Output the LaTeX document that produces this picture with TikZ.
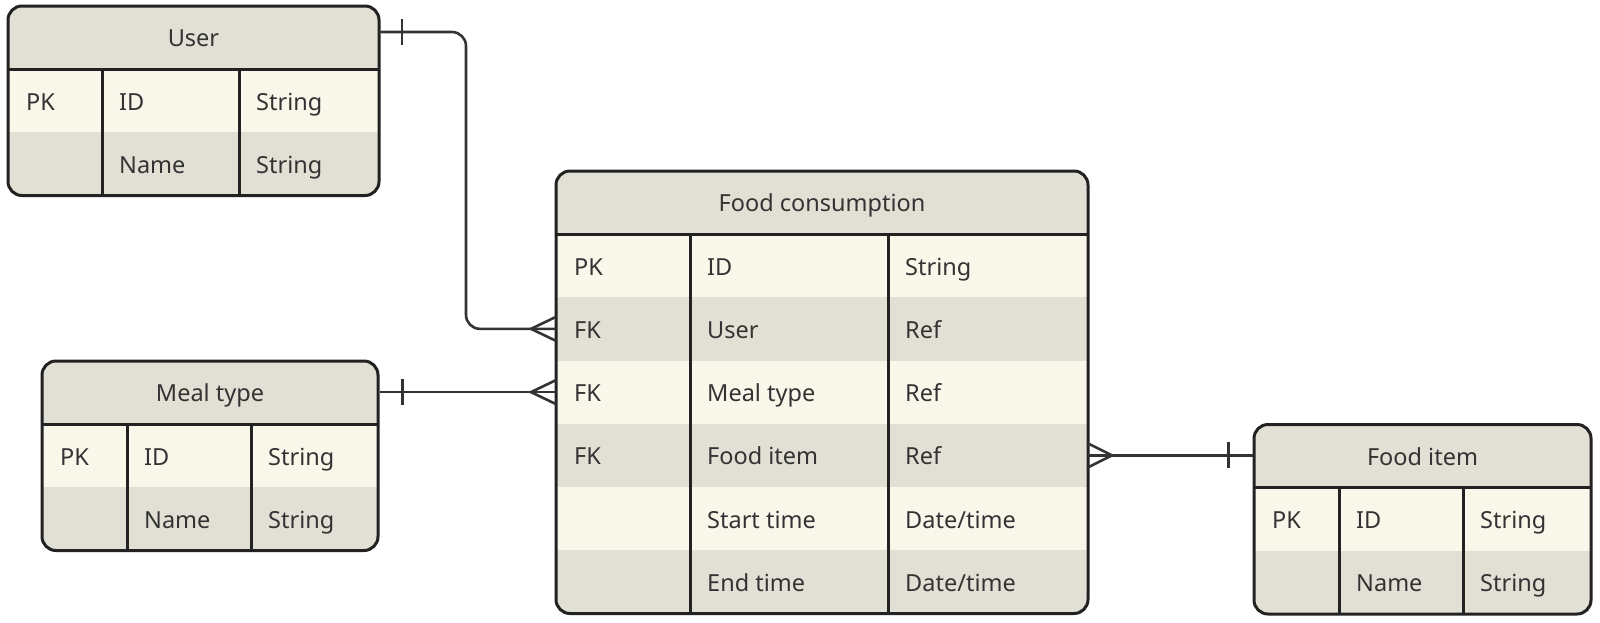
\documentclass[tikz,border=0pt]{standalone}
\usepackage{fontspec}
\setmainfont{Noto Sans}
\usetikzlibrary{calc}
\definecolor{hdrcol}{HTML}{E2E0D4}
\definecolor{lightcol}{HTML}{F9F7EA}
\definecolor{darkcol}{HTML}{E2E0D4}
\definecolor{inkcol}{HTML}{222222}
\definecolor{txtcol}{HTML}{333333}
\tikzset{
  border/.style={draw=inkcol, line width=3pt},
  conn/.style={draw=txtcol, line width=2.6pt},
  celltext/.style={inner sep=0pt, text=txtcol, font=\fontsize{23.5}{28}\selectfont},
}
\newcommand{\erdtable}[9]{%
  % #1 name, #2 x0, #3 x1, #4 top, #5 c1, #6 c2, #7 title, #8 nrows, #9 rows
  \pgfmathsetmacro\tHd{#4+63}%
  \pgfmathsetmacro\tBot{#4+63+#8*63.25}%
  \pgfmathsetmacro\tW{#3-#2}%
  \pgfmathsetmacro\tH{\tBot-#4}%
  \pgfmathsetmacro\tMx{(#2+#3)/2}%
  \pgfmathsetmacro\tMy{(#4+\tBot)/2}%
  \begin{scope}
    \clip[rounded corners=14pt] (#2,#4) rectangle (#3,\tBot);
    \fill[hdrcol] (#2,#4) rectangle (#3,\tHd);
    \foreach \a/\b/\c [count=\i] in {#9} {
      \pgfmathsetmacro\ya{\tHd+(\i-1)*63.25}
      \pgfmathsetmacro\yb{\ya+63.25}
      \pgfmathsetmacro\ym{\ya+31.6}
      \ifodd\i\relax
        \fill[lightcol] (#2,\ya) rectangle (#3,\yb);
      \else
        \fill[darkcol] (#2,\ya) rectangle (#3,\yb);
      \fi
      \coordinate (#1-r\i) at (#2,\ym);
      \coordinate (#1-R\i) at (#3,\ym);
      \node[celltext, anchor=base west] (#1-k\i) at ({#2+18},{\ym+9.5}) {\a};
      \node[celltext, anchor=base west] (#1-n\i) at ({#5+17},{\ym+9.5}) {\b};
      \node[celltext, anchor=base west] (#1-t\i) at ({#6+17},{\ym+9.5}) {\c};
    }
  \end{scope}
  \coordinate (#1-hl) at (#2,{#4+31.5});
  \coordinate (#1-hr) at (#3,{#4+31.5});
  \node[celltext, anchor=base] (#1-title) at (\tMx,{#4+31.5+9}) {#7};
  \draw[border] (#2,\tHd) -- (#3,\tHd);
  \draw[border] (#5,\tHd) -- (#5,\tBot);
  \draw[border] (#6,\tHd) -- (#6,\tBot);
  \node[border, rounded corners=14pt, inner sep=0pt, minimum width=\tW pt, minimum height=\tH pt] (#1) at (\tMx,\tMy) {};
}
\begin{document}
\begin{tikzpicture}[x=1pt, y=-1pt]
  \useasboundingbox (0,0) rectangle (1600,622);
  \erdtable{user}{8}{379}{6}{102}{239}{User}{2}{PK/ID/String, /Name/String}
  \erdtable{meal}{42}{378}{361}{127}{251}{Meal type}{2}{PK/ID/String, /Name/String}
  \erdtable{fc}{556}{1088}{171}{690}{888}{Food consumption}{6}{PK/ID/String, FK/User/Ref, FK/Meal type/Ref, FK/Food item/Ref, /Start time/{Date/time}, /End time/{Date/time}}
  \erdtable{food}{1254}{1591}{424.5}{1339}{1463}{Food item}{2}{PK/ID/String, /Name/String}
  \coordinate (bend) at (466,0);
  \coordinate (userout) at ([yshift=5.5pt]user-hr);
  \coordinate (mealout) at (meal.east |- fc-r3);
  \coordinate (foodin) at (food.west |- fc-R4);
  % User -> Food consumption
  \draw[conn, rounded corners=14pt] (userout) -| (bend |- fc-r2) -- (fc-r2);
  \draw[conn] ([xshift=23pt,yshift=13pt]userout) -- ([xshift=23pt,yshift=-13pt]userout);
  \draw[conn] ([yshift=12pt]fc-r2) -- ([xshift=-25pt]fc-r2) -- ([yshift=-12pt]fc-r2);
  % Meal type -> Food consumption
  \draw[conn] (mealout) -- (fc-r3);
  \draw[conn] ([xshift=23pt,yshift=13pt]mealout) -- ([xshift=23pt,yshift=-13pt]mealout);
  \draw[conn] ([yshift=12pt]fc-r3) -- ([xshift=-25pt]fc-r3) -- ([yshift=-12pt]fc-r3);
  % Food consumption -> Food item
  \draw[conn] (fc-R4) -- (foodin);
  \draw[conn] ([xshift=-24pt,yshift=13pt]foodin) -- ([xshift=-24pt,yshift=-13pt]foodin);
  \draw[conn] ([yshift=12pt]fc-R4) -- ([xshift=24pt]fc-R4) -- ([yshift=-12pt]fc-R4);
\end{tikzpicture}
\end{document}
